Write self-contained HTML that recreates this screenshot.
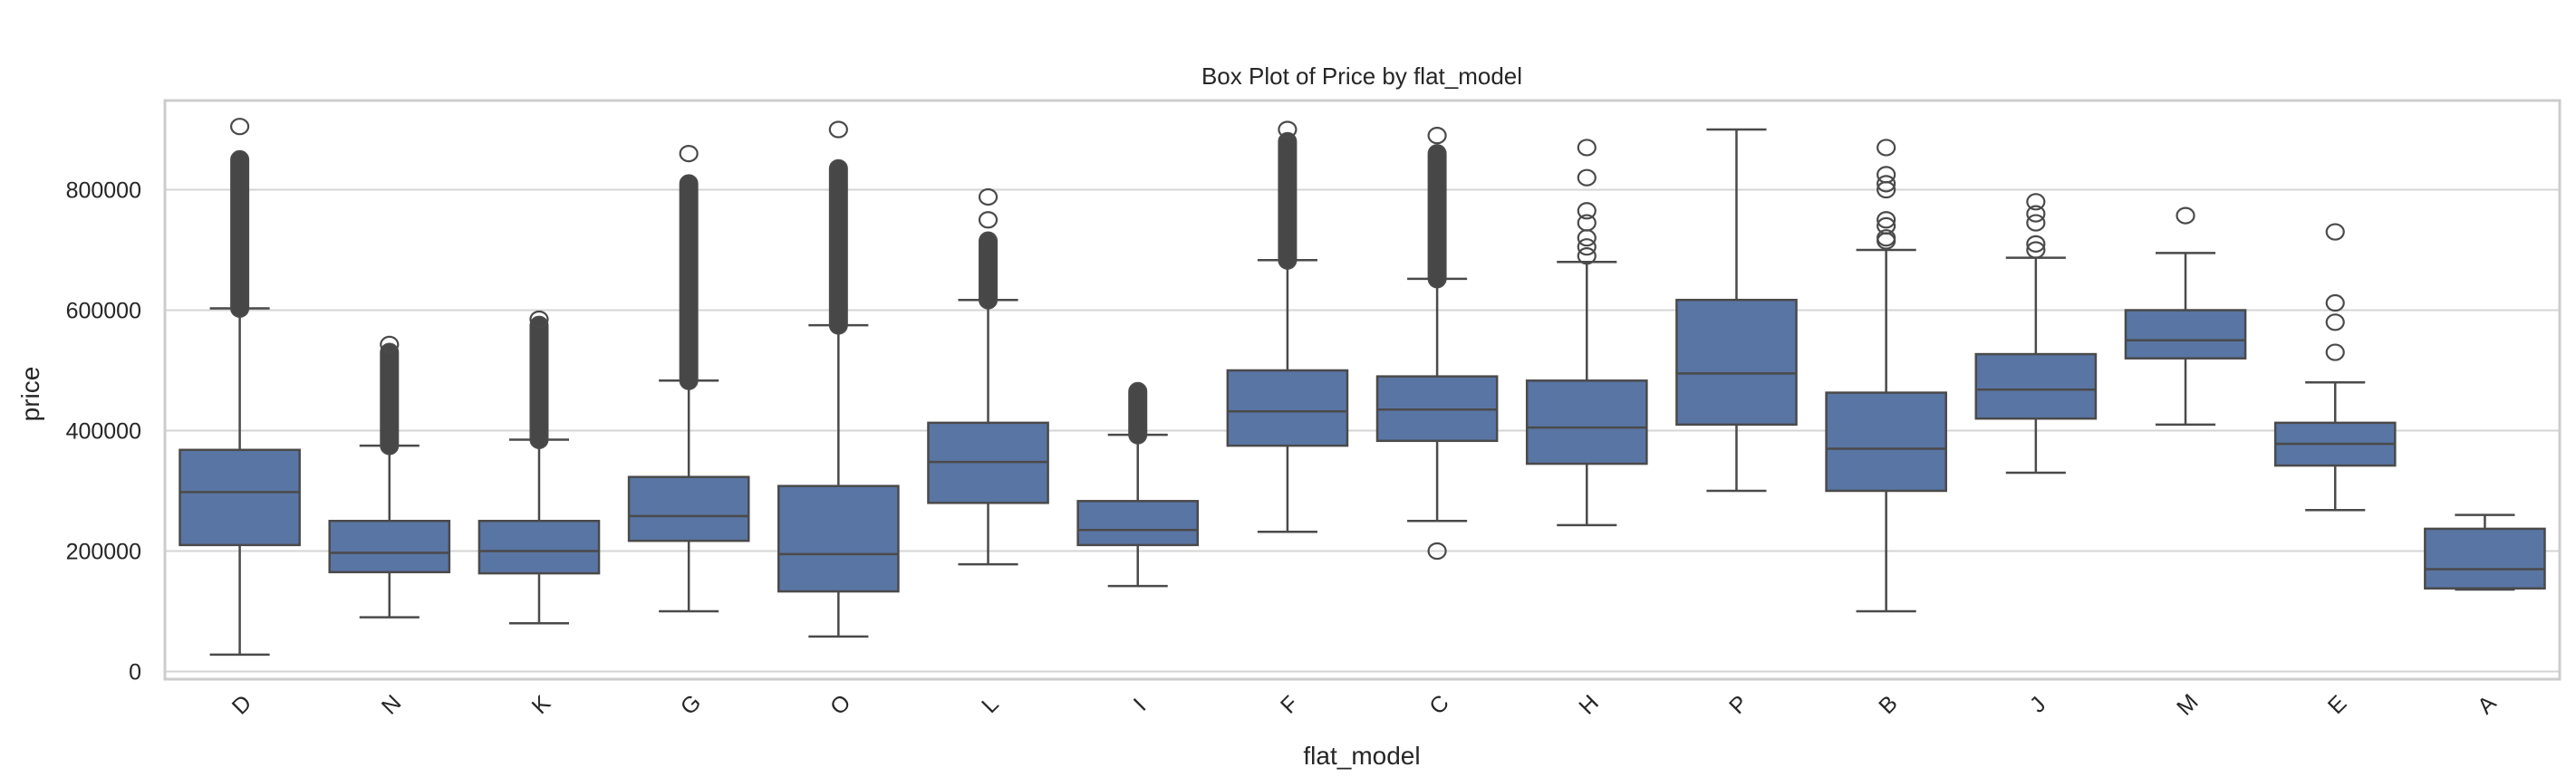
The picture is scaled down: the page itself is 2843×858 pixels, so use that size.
<!DOCTYPE html>
<html><head><meta charset="utf-8"><style>
html,body{margin:0;padding:0;background:#fff;}
svg{display:block;font-family:"Liberation Sans",sans-serif;}
</style></head><body>
<svg id="chart" width="2843" height="858" viewBox="0 0 2843 858">
<rect x="0" y="0" width="2843" height="858" fill="#fff"/>
<g id="grid"></g>
<g id="boxes"></g>
<rect x="182" y="111" width="2643" height="639" fill="none" stroke="#cccccc" stroke-width="3"/>
<g id="yticks"></g>
<g id="xticks"></g>
<text x="1503" y="93" text-anchor="middle" font-size="26" fill="#262626">Box Plot of Price by flat_model</text>
<text x="1503" y="844" text-anchor="middle" font-size="28" fill="#262626">flat_model</text>
<text x="0" y="0" transform="translate(43,435) rotate(-90)" text-anchor="middle" font-size="28" fill="#262626">price</text>
</svg>
<script>
const categories = ["D","N","K","G","O","L","I","F","C","H","P","B","J","M","E","A"];
const whiskLow = [28000,90000,80000,100000,58000,178000,142000,232000,250000,243000,300000,100000,330000,410000,268000,136000];
const q1Vals   = [210000,165000,163000,217000,133000,280000,210000,375000,383000,345000,410000,300000,420000,520000,342000,138000];
const medians  = [298000,197000,200000,258000,195000,348000,235000,432000,435000,405000,495000,370000,468000,550000,378000,170000];
const q3Vals   = [368000,250000,250000,323000,308000,413000,283000,500000,490000,483000,617000,463000,527000,600000,413000,237000];
const whiskHigh= [603000,375000,385000,483000,575000,617000,393000,683000,652000,680000,900000,700000,687000,695000,480000,260000];
const denseLow = [603000,375000,385000,483000,575000,617000,393000,683000,652000,0,0,0,0,0,0,0];
const denseHigh= [850000,530000,575000,810000,835000,715000,465000,880000,860000,0,0,0,0,0,0,0];
const outliers = [[905000],[543000],[585000],[860000],[900000],[750000,788000],[],[900000],[200000,890000],[690000,705000,720000,745000,765000,820000,870000],[],[715000,720000,740000,750000,800000,810000,825000,870000],[700000,710000,745000,760000,780000],[757000],[530000,580000,612000,730000],[]];
const yTicks = [0,200000,400000,600000,800000];

const NS="http://www.w3.org/2000/svg";
const y = v => 741.5 - v*0.000665;
const band = 2643/categories.length;
const x = i => 182 + band*(i+0.5);
function mk(tag, attrs, parent){const e=document.createElementNS(NS,tag);for(const k in attrs)e.setAttribute(k,attrs[k]);parent.appendChild(e);return e;}
const grid=document.getElementById('grid'), boxes=document.getElementById('boxes'), yt=document.getElementById('yticks'), xt=document.getElementById('xticks');
const LC="#4a4a4a";
yTicks.forEach(t=>{
  const l=mk('line',{x1:182,x2:2825,y1:y(t),y2:y(t),stroke:"#d5d5d5","stroke-width":2},grid);
  
  
  const tx=mk('text',{x:156,y:y(t)+9,"text-anchor":"end","font-size":25,fill:"#262626"},yt);
  tx.textContent=String(t);
  
  
});
categories.forEach((c,i)=>{
  const cx=x(i), bw=band*0.8, cw=bw/2;
  const g=mk('g',{},boxes);
  
  
  mk('line',{x1:cx,x2:cx,y1:y(whiskLow[i]),y2:y(q1Vals[i]),stroke:LC,"stroke-width":2.5},g);
  mk('line',{x1:cx,x2:cx,y1:y(q3Vals[i]),y2:y(whiskHigh[i]),stroke:LC,"stroke-width":2.5},g);
  mk('line',{x1:cx-cw/2,x2:cx+cw/2,y1:y(whiskLow[i]),y2:y(whiskLow[i]),stroke:LC,"stroke-width":2.5},g);
  mk('line',{x1:cx-cw/2,x2:cx+cw/2,y1:y(whiskHigh[i]),y2:y(whiskHigh[i]),stroke:LC,"stroke-width":2.5},g);
  mk('rect',{x:cx-bw/2,y:y(q3Vals[i]),width:bw,height:y(q1Vals[i])-y(q3Vals[i]),fill:"#5975a4",stroke:LC,"stroke-width":2.5},g);
  mk('line',{x1:cx-bw/2,x2:cx+bw/2,y1:y(medians[i]),y2:y(medians[i]),stroke:LC,"stroke-width":2.5},g);
  if(denseHigh[i]>0){
    const d=mk('rect',{x:cx-9.5,y:y(denseHigh[i])-9.5,width:19,height:y(denseLow[i])-y(denseHigh[i])+19,rx:9.5,ry:9.5,fill:"#474747",stroke:LC,"stroke-width":2},g);
    
    
  }
  outliers[i].forEach(v=>{
    const o=mk('ellipse',{cx:cx,cy:y(v),rx:9.5,ry:8.5,fill:"none",stroke:LC,"stroke-width":2.2},g);
    
    
  });
  const t=mk('text',{x:0,y:0,transform:`translate(${cx+8},${784}) rotate(-45)`,"text-anchor":"middle","font-size":25,fill:"#262626"},xt);
  t.textContent=c;
  
  
});
</script>
</body></html>
